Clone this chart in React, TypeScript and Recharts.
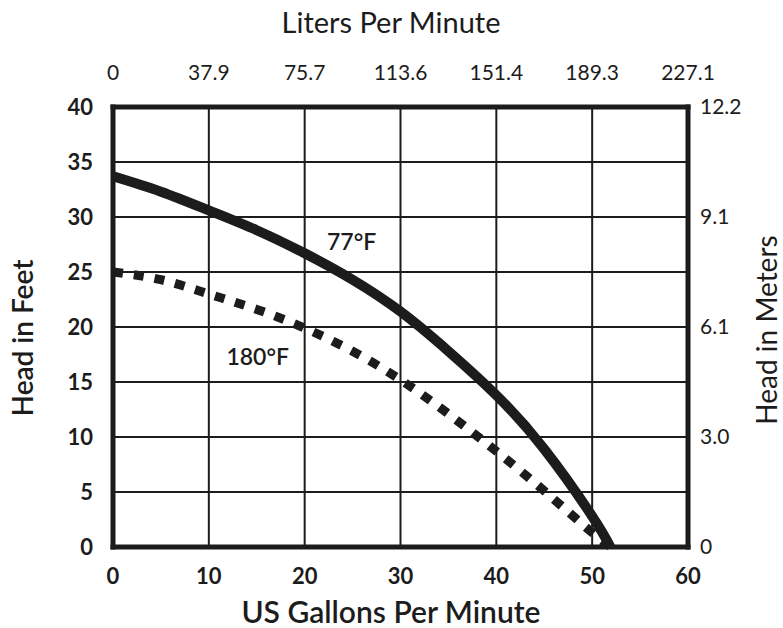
import React from "react";
import { LineChart, Line, XAxis, YAxis, CartesianGrid, ReferenceDot } from "recharts";

// flow (US gal/min) and head (ft)
const flow77 = [0, 5, 10, 15, 20, 25, 30, 35, 40, 45, 50, 51.9];
const head77F = [33.7, 32.3, 30.6, 28.8, 26.7, 24.3, 21.4, 17.8, 13.8, 8.9, 2.8, 0];
const flow180 = [0, 5, 10, 15, 20, 25, 30, 35, 40, 45, 50, 52];
const head180F = [25.0, 24.3, 23.0, 21.6, 19.9, 17.8, 15.2, 12.1, 8.7, 5.1, 1.3, 0];

const gpmTicks = [0, 10, 20, 30, 40, 50, 60];
const lpmLabels = ["0", "37.9", "75.7", "113.6", "151.4", "189.3", "227.1"];
const feetTicks = [0, 5, 10, 15, 20, 25, 30, 35, 40];
const meterTicks = [0, 10, 20, 30, 40];
const meterLabels = ["0", "3.0", "6.1", "9.1", "12.2"];

// where the curve names sit, in chart units (gpm, ft)
const label77 = { x: 24.9, y: 27.8, text: "77°F" };
const label180 = { x: 15.1, y: 17.4, text: "180°F" };

const cold = flow77.map((g, i) => ({ gpm: g, head: head77F[i] }));
const hot = flow180.map((g, i) => ({ gpm: g, head: head180F[i] }));

const FONT = 'Lato, "Open Sans", sans-serif';
const INK = "#1c1c1c";
const frame = { stroke: INK, strokeWidth: 5, strokeLinecap: "square" as const };

const curveLabel = (text: string) => (props: any) => {
  const { viewBox } = props;
  return (
    <text x={viewBox.x} y={viewBox.y} textAnchor="middle" dominantBaseline="central"
      fontFamily={FONT} fontWeight={600} fontSize={23} fill={INK}>
      {text}
    </text>
  );
};

export default function App() {
  return (
    <div style={{ position: "absolute", left: 0, top: 0, background: "#fff" }}>
      <LineChart width={783} height={628} margin={{ top: 0, right: 0, bottom: 0, left: 0 }}>
        <CartesianGrid xAxisId="bottom" yAxisId="left" stroke={INK} strokeWidth={2}
          horizontalValues={feetTicks} verticalValues={gpmTicks} />
        <XAxis xAxisId="bottom" dataKey="gpm" type="number" domain={[0, 60]} ticks={gpmTicks}
          orientation="bottom" height={81} axisLine={frame} tickLine={false} tickSize={11} tickMargin={10}
          tick={{ fontFamily: FONT, fontWeight: 700, fontSize: 22, fill: INK }}
          label={() => (
            <text x={391} y={623} textAnchor="middle" fontFamily={FONT} fontWeight={600} fontSize={30} fill={INK}>
              US Gallons Per Minute
            </text>
          )} />
        <XAxis xAxisId="top" dataKey="gpm" type="number" domain={[0, 60]} ticks={gpmTicks}
          allowDataOverflow orientation="top" height={107} axisLine={frame} tickLine={false}
          tickSize={14} tickMargin={13}
          tickFormatter={(v: number) => lpmLabels[gpmTicks.indexOf(v)]}
          tick={{ fontFamily: FONT, fontSize: 21, fill: INK }}
          label={() => (
            <text x={391} y={33} textAnchor="middle" fontFamily={FONT} fontSize={29} fill={INK}>
              Liters Per Minute
            </text>
          )} />
        <YAxis yAxisId="left" dataKey="head" type="number" domain={[0, 40]} ticks={feetTicks} width={113}
          axisLine={frame} tickLine={false} tickSize={10} tickMargin={10}
          tick={{ fontFamily: FONT, fontWeight: 700, fontSize: 22, fill: INK }}
          label={() => (
            <text x={33} y={338} textAnchor="middle" transform="rotate(-90 33 338)"
              fontFamily={FONT} fontWeight={600} fontSize={28} fill={INK}>
              Head in Feet
            </text>
          )} />
        <YAxis yAxisId="right" dataKey="head" orientation="right" type="number" domain={[0, 40]}
          allowDataOverflow ticks={meterTicks} width={95}
          axisLine={frame} tickLine={false} tickSize={6} tickMargin={6}
          tickFormatter={(v: number) => meterLabels[meterTicks.indexOf(v)]}
          tick={{ fontFamily: FONT, fontSize: 21, fill: INK }}
          label={() => (
            <text x={777} y={330} textAnchor="middle" transform="rotate(-90 777 330)"
              fontFamily={FONT} fontSize={28} fill={INK}>
              Head in Meters
            </text>
          )} />
        <Line xAxisId="bottom" yAxisId="left" data={hot} type="natural" dataKey="head" stroke={INK}
          strokeWidth={9} strokeDasharray="10 11" dot={false} activeDot={false} isAnimationActive={false} />
        <Line xAxisId="bottom" yAxisId="left" data={cold} type="natural" dataKey="head" stroke={INK}
          strokeWidth={10} dot={false} activeDot={false} isAnimationActive={false} />
        {/* invisible copy so the top and right scales get their ticks */}
        <Line xAxisId="top" yAxisId="right" data={cold} dataKey="head" stroke="none"
          dot={false} activeDot={false} legendType="none" isAnimationActive={false} />
        <ReferenceDot xAxisId="bottom" yAxisId="left" x={label77.x} y={label77.y} r={0} stroke="none"
          label={curveLabel(label77.text)} />
        <ReferenceDot xAxisId="bottom" yAxisId="left" x={label180.x} y={label180.y} r={0} stroke="none"
          label={curveLabel(label180.text)} />
      </LineChart>
    </div>
  );
}
